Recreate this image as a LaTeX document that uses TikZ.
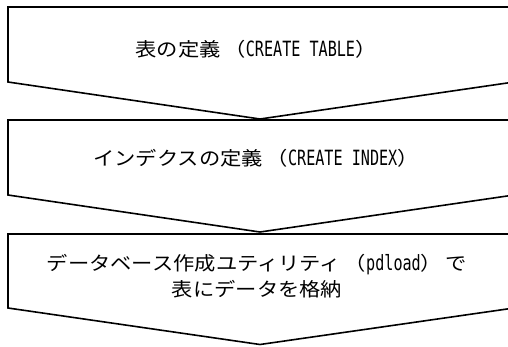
\documentclass[tikz,border=0pt]{standalone}
\usepackage{fontspec}
\newfontfamily\jp[FakeStretch=1.12]{Noto Sans CJK JP}
\newfontfamily\lat[FakeStretch=0.72]{DejaVu Sans Mono}
\newcommand{\pspace}{\hspace{0.2em}}
\newcommand{\ltxt}[1]{{\lat\fontsize{21}{26}\selectfont #1}}
\begin{document}
\begin{tikzpicture}[x=1pt,y=-1pt,
  chev/.style={draw=black,line width=1.6pt,line join=miter,fill=white},
  lbl/.style={font=\jp\fontsize{19}{26}\selectfont,align=center,inner sep=0pt}]
\useasboundingbox (0,0) rectangle (508,346);
\clip (0,0) rectangle (508,346);
\draw[chev] (8,7) -- (514,7) -- (514,82) -- (260,119) -- (8,82) -- cycle;
\draw[chev] (8,120) -- (514,120) -- (514,195) -- (260,232) -- (8,195) -- cycle;
\draw[chev] (8,234) -- (514,234) -- (514,308) -- (260,344.5) -- (8,308) -- cycle;
\node[lbl] (t1) at (256,49) {表の定義\pspace（\ltxt{CREATE TABLE}）};
\node[lbl] (t2) at (256,158) {インデクスの定義\pspace（\ltxt{CREATE INDEX}）};
\node[lbl] (t3) at (257,276) {データベース作成ユティリティ\pspace（\ltxt{pdload}）\pspace で\\表にデータを格納};
\end{tikzpicture}
\end{document}
